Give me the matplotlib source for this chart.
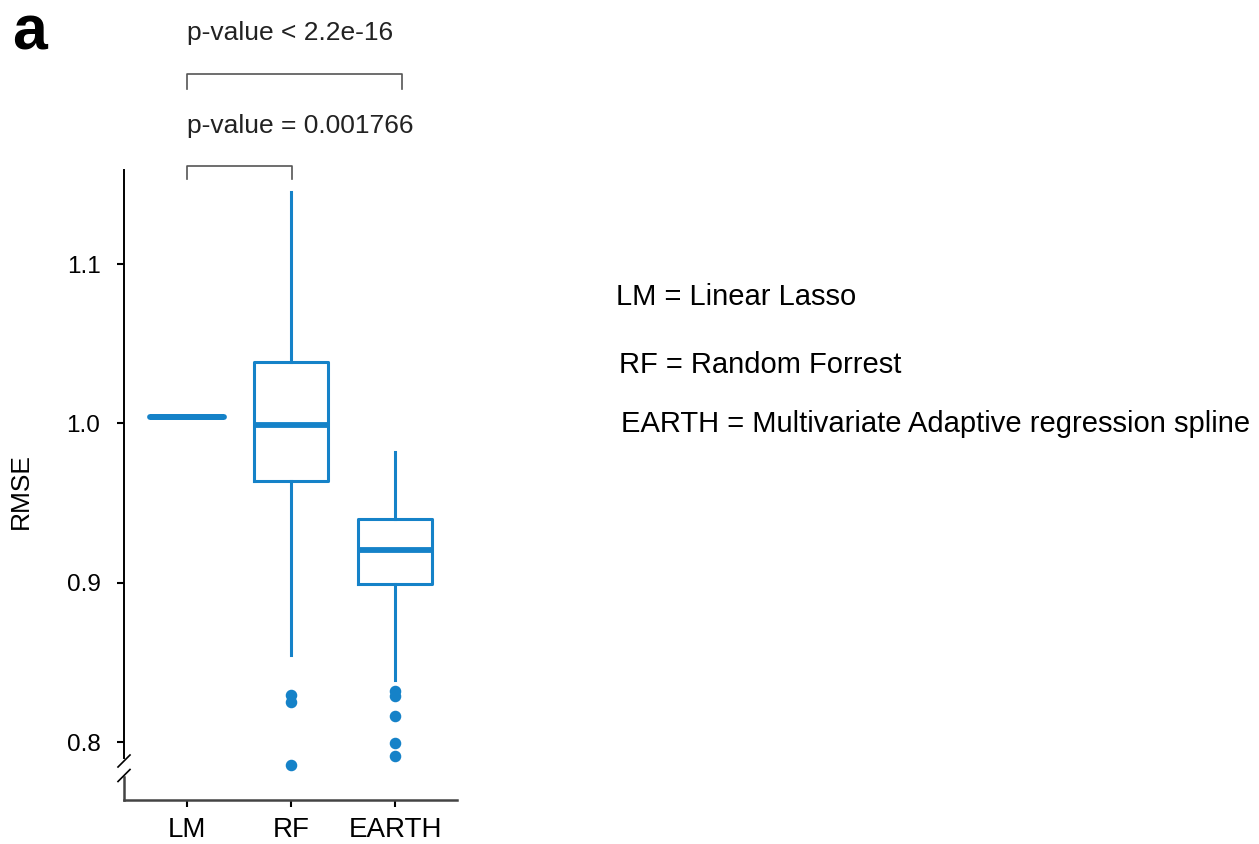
import matplotlib
matplotlib.use("Agg")
import matplotlib.pyplot as plt

plt.rcParams['font.family'] = ['Liberation Sans', 'DejaVu Sans']

# ---- data ----
categories = ["LM", "RF", "EARTH"]
whislo = [1.0039, 0.8549, 0.8387]
q1 = [1.0039, 0.9636, 0.8992]
med = [1.0039, 0.9989, 0.9205]
q3 = [1.0039, 1.0384, 0.9399]
whishi = [1.0039, 1.1450, 0.9821]
fliers_lm = []
fliers_rf = [0.8292, 0.8254, 0.7855]
fliers_earth = [0.8321, 0.8290, 0.8166, 0.7992, 0.7913]
yticks = [0.8, 0.9, 1.0, 1.1]
pvals = ["p-value = 0.001766", "p-value < 2.2e-16"]
legend_lines = ["LM = Linear Lasso", "RF = Random Forrest",
                "EARTH = Multivariate Adaptive regression spline"]

BLUE = "#1582C8"
W, H = 1259, 844

fig = plt.figure(figsize=(W / 100, H / 100), dpi=100)
ax = fig.add_axes([124 / W, 44 / H, 333 / W, 630 / H])

fliers = [fliers_lm, fliers_rf, fliers_earth]
stats = []
for i, c in enumerate(categories):
    stats.append(dict(label=c, whislo=whislo[i], q1=q1[i], med=med[i],
                      q3=q3[i], whishi=whishi[i], fliers=fliers[i]))

ax.bxp(stats, positions=range(len(categories)), widths=0.71,
       showcaps=False, patch_artist=False,
       boxprops=dict(color=BLUE, linewidth=2.2),
       whiskerprops=dict(color=BLUE, linewidth=2.2),
       medianprops=dict(color=BLUE, linewidth=4.2, solid_capstyle='butt'),
       flierprops=dict(marker='o', markerfacecolor=BLUE, markeredgecolor=BLUE,
                       markersize=7.3))

# LM collapsed box: thick rounded line
ax.plot([-0.355, 0.355], [med[0], med[0]], color=BLUE, lw=4.2,
        solid_capstyle='round')

ax.set_xlim(-0.606, 2.596)
ax.set_ylim(0.7636, 1.159)
ax.set_yticks(yticks)
ax.set_yticklabels([f"{t:.1f}" for t in yticks])
ax.set_xticks(range(len(categories)))
ax.set_xticklabels(categories)
ax.tick_params(axis='both', length=5, width=1.5, color='black')
ax.tick_params(axis='y', labelsize=17.5, pad=12)
ax.tick_params(axis='x', labelsize=20, pad=7)
ax.set_ylabel("RMSE", fontsize=19)
ax.yaxis.set_label_coords((33 - 124) / 333, (800 - 491) / 630)

for s in ['top', 'right', 'left']:
    ax.spines[s].set_visible(False)
ax.spines['bottom'].set_color('#444444')
ax.spines['bottom'].set_linewidth(1.8)

# broken left spine (axes coords)
tr = ax.transAxes
ax.plot([0, 0], [1, (800 - 758) / 630], color='black', lw=1.4,
        transform=tr, clip_on=False)
ax.plot([0, 0], [(800 - 777) / 630, 0], color='#444444', lw=1.8,
        transform=tr, clip_on=False)
dx = 6 / 333
dy = 6 / 630
for yc in [(800 - 761) / 630, (800 - 775.5) / 630]:
    ax.plot([-dx, dx], [yc - dy, yc + dy], color='black', lw=1.2,
            transform=tr, clip_on=False)

# significance brackets (figure pixel coords -> data via transforms)
def px_to_data(x, y):
    inv = ax.transData.inverted()
    return inv.transform((x, H - y))

def bracket(x0, x1, ytop, ybot):
    (dx0, dyt) = px_to_data(x0, ytop)
    (dx1, dyb) = px_to_data(x1, ybot)
    ax.plot([dx0, dx0, dx1, dx1], [dyb, dyt, dyt, dyb], color='#555555',
            lw=1.2, clip_on=False)

bracket(187, 292, 166, 179)
bracket(187, 402, 74, 89)

fig.text(187 / W, 1 - 126 / H, pvals[0], fontsize=19, va='center',
         ha='left', color='#222222')
fig.text(187 / W, 1 - 33 / H, pvals[1], fontsize=19, va='center',
         ha='left', color='#222222')

fig.text(12 / W, 1 - 50 / H, "a", fontsize=45, fontweight='bold',
         va='baseline', ha='left')

fig.text(616 / W, 1 - 305 / H, legend_lines[0], fontsize=21, va='baseline')
fig.text(619 / W, 1 - 373 / H, legend_lines[1], fontsize=21, va='baseline')
fig.text(621 / W, 1 - 432 / H, legend_lines[2], fontsize=21, va='baseline')

fig.savefig("out.png", dpi=100)
